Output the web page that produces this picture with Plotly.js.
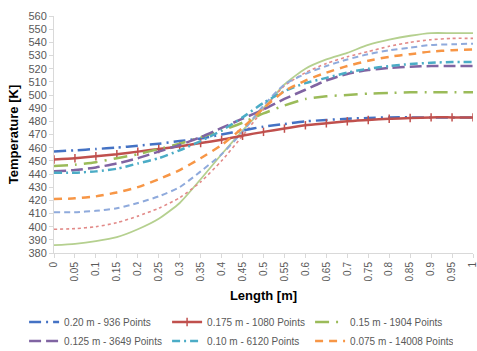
<!DOCTYPE html>
<html>
<head>
<meta charset="utf-8">
<script src="https://cdn.plot.ly/plotly-3.0.1.min.js"></script>
<style>html,body{margin:0;padding:0;background:#fff;}#chart{width:477px;height:351px;}</style>
</head>
<body>
<div id="chart"></div>
<script>
const lengthM = [0,0.05,0.1,0.15,0.2,0.25,0.3,0.35,0.4,0.45,0.5,0.55,0.6,0.65,0.7,0.75,0.8,0.85,0.9,0.95,1];
const tickLabels = ["0","0.05","0.1","0.15","0.2","0.25","0.3","0.35","0.4","0.45","0.5","0.55","0.6","0.65","0.7","0.75","0.8","0.85","0.9","0.95","1"];

const s020  = [457,458,459,460,461.5,463,465,467,470,473,476,478,480,481,482,482.5,483,483,483,483,483];
const s0175 = [451,452,453.5,455,457,459,461,463.5,466,469,472,474.5,477,478.5,480,481,482,482.5,483,483,483];
const s015  = [446,447,449,452,455,459,463,468,473,479,486,492,497,499,500,501,501.5,502,502,502,502];
const s0125 = [442,443,445,448,452,457,462,468,475,482,489,497,504,511,516,519,520.5,521.5,522,522,522];
const s010  = [441,441,442,444,448,452,458,465,473,483,494,503,509,513,517,520,522,523.5,524.5,525,525];
const s0075 = [421,421.5,423,426,430,436,443,452,462,475,490,503,511,517,522,526,529,531,533,534,534.5];
const sLightBlue = [411,411,412,414,418,423,430,442,455,472,492,508,516,522,527,531,534,536,538,538.5,539];
const sPink      = [398,398.5,400,403,408,414,422,434,450,469,489,507,517,524,529,533,537,540,542,543,543];
const sLightGrn  = [386,387,389,392,398,406,418,436,455,473,490,508,520,527,532,538,542,545,547,547,547];

const names = ["0.20 m - 936 Points","0.175 m - 1080 Points","0.15 m - 1904 Points",
               "0.125 m - 3649 Points","0.10 m - 6120 Points","0.075 m - 14008 Points"];

function tr(y, name, color, dash, width, show, extra) {
  return Object.assign({
    x: lengthM, y: y, name: name, type: 'scatter', mode: 'lines',
    line: {color: color, dash: dash, width: width, shape: 'spline', smoothing: 0.6},
    showlegend: show, hoverinfo: 'skip'
  }, extra || {});
}

const data = [
  tr(sLightGrn, '', '#B5D08F', 'solid', 1.8, false),
  tr(sPink, '', '#E28A88', 'dot', 1.6, false),
  tr(sLightBlue, '', '#8FAADC', '6px,4px', 2, false),
  tr(s020, names[0], '#4472C4', '12px,5px,2px,5px', 2.5, true),
  tr(s0175, names[1], '#C0504D', 'solid', 2.5, true,
     {mode: 'lines+markers', marker: {symbol: 'line-ns-open', size: 6, color: '#C0504D', line: {width: 1.5, color: '#C0504D'}}}),
  tr(s015, names[2], '#9BBB59', '14px,7px,2px,7px', 2.5, true),
  tr(s0125, names[3], '#8064A2', '12px,5px', 2.5, true),
  tr(s010, names[4], '#4BACC6', '8px,4px,2px,4px', 2.5, true),
  tr(s0075, names[5], '#F79646', '8px,6px', 2.5, true)
];

const layout = {
  width: 477, height: 351,
  margin: {l: 54, r: 4, t: 16, b: 98, autoexpand: false},
  paper_bgcolor: '#fff', plot_bgcolor: '#fff',
  font: {family: 'Liberation Sans, Arial, sans-serif', color: '#595959', size: 10},
  xaxis: {
    range: [0, 1], tickmode: 'array', tickvals: lengthM, ticktext: tickLabels, tickangle: -90,
    ticklabeloverflow: 'allow',
    showgrid: false, zeroline: false, showline: true, linecolor: '#D9D9D9', linewidth: 1,
    ticks: 'outside', ticklen: 4, tickcolor: '#D9D9D9',
    tickfont: {size: 10, color: '#595959'},
    title: {text: 'Length [m]', font: {size: 13, color: '#000', family: 'Liberation Sans, Arial, sans-serif', weight: 'bold'}, standoff: 10}
  },
  yaxis: {
    range: [380, 560], dtick: 10,
    showgrid: false, zeroline: false, showline: true, linecolor: '#D9D9D9', linewidth: 1,
    ticks: 'outside', ticklen: 4, tickcolor: '#D9D9D9',
    tickfont: {size: 11, color: '#595959'},
    title: {text: 'Temperature [K]', font: {size: 13, color: '#000', family: 'Liberation Sans, Arial, sans-serif', weight: 'bold'}, standoff: 6}
  },
  showlegend: true,
  legend: {
    orientation: 'h', xref: 'paper', yref: 'paper',
    x: -0.0714, y: -0.23, xanchor: 'left', yanchor: 'top',
    entrywidth: 98, entrywidthmode: 'pixels',
    font: {size: 10, color: '#595959'},
    itemwidth: 30, bgcolor: 'rgba(0,0,0,0)'
  }
};

Plotly.newPlot('chart', data, layout, {displayModeBar: false, staticPlot: true});
</script>
</body>
</html>
